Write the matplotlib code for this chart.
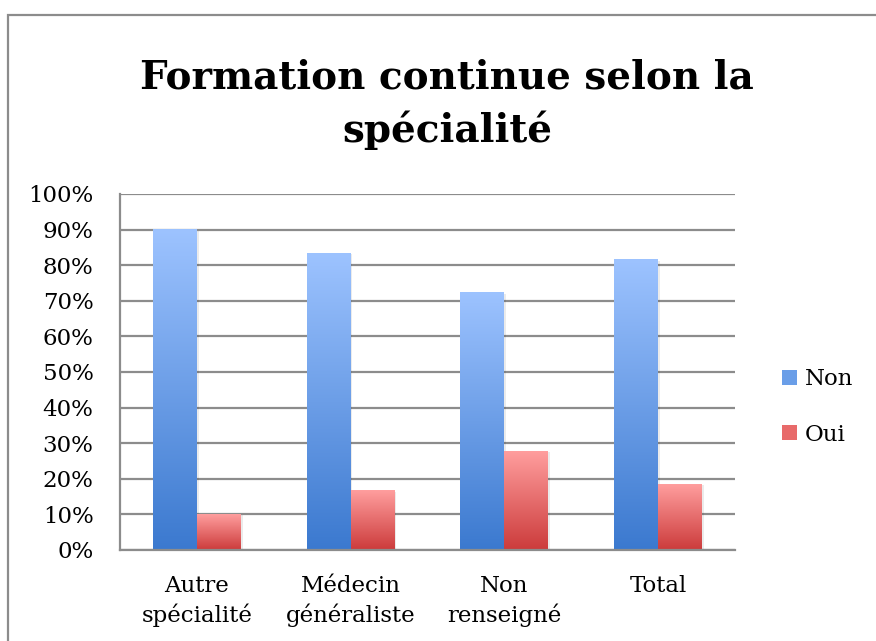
import numpy as np
import matplotlib
matplotlib.use('Agg')
import matplotlib.pyplot as plt
from matplotlib.patches import Rectangle, Patch
from matplotlib.colors import LinearSegmentedColormap

categories = ['Autre\nspécialité', 'Médecin\ngénéraliste', 'Non\nrenseigné', 'Total']
non = [90.0, 83.4, 72.2, 81.5]
oui = [10.0, 16.6, 27.8, 18.5]
yticks = [0, 10, 20, 30, 40, 50, 60, 70, 80, 90, 100]

plt.rcParams['font.family'] = 'DejaVu Serif'

fig = plt.figure(figsize=(8.76, 6.41), dpi=100)
ax = fig.add_axes([120 / 876, 1 - 550 / 641, 615 / 876, 356 / 641])

# outer frame (cropped at right and bottom)
fig.patches.append(Rectangle((8 / 876, -0.05), 1.1, 1 - 15 / 641 + 0.05, transform=fig.transFigure,
                             fill=False, edgecolor='#8c8c8c', linewidth=1.6))

x = np.arange(len(categories))
w = 0.286
bars_non = ax.bar(x - w / 2, non, w, color='none', zorder=3)
bars_oui = ax.bar(x + w / 2, oui, w, color='none', zorder=3)

blue = LinearSegmentedColormap.from_list('b', ['#3b79cf', '#9dc3ff'])
red = LinearSegmentedColormap.from_list('r', ['#cc3b3b', '#ff9e9e'])
grad = np.linspace(0, 1, 256).reshape(-1, 1)
for bars, cmap in [(bars_non, blue), (bars_oui, red)]:
    for b in bars:
        x0, y0 = b.get_x(), b.get_y()
        bw, bh = b.get_width(), b.get_height()
        # soft shadow
        ax.add_patch(Rectangle((x0 + 0.012, y0), bw, bh - 0.3, facecolor='#000000', alpha=0.08,
                               edgecolor='none', zorder=2))
        ax.imshow(grad, cmap=cmap, origin='lower', aspect='auto',
                  extent=(x0, x0 + bw, y0, y0 + bh), zorder=3, interpolation='bicubic')

ax.set_xlim(-0.5, 3.5)
ax.set_ylim(0, 100)
ax.set_yticks(yticks)
ax.set_yticklabels([f'{v}%' for v in yticks])
ax.set_xticks(x)
ax.set_xticklabels(categories, linespacing=1.35)
ax.tick_params(length=0, labelsize=16.5)
ax.tick_params(axis='y', pad=19)
ax.tick_params(axis='x', pad=18)
ax.grid(axis='y', color='#8c8c8c', linewidth=1.6, zorder=1)
ax.set_axisbelow(True)
for s in ['top', 'right']:
    ax.spines[s].set_visible(False)
for s in ['left', 'bottom']:
    ax.spines[s].set_color('#8c8c8c')
    ax.spines[s].set_linewidth(1.6)
    ax.spines[s].set_zorder(4)

fig.text(447 / 876, 1 - 104 / 641, 'Formation continue selon la\nspécialité', ha='center', va='center',
         fontsize=28, fontweight='bold', linespacing=1.45)

handles = [Patch(facecolor='#6a9ee8', edgecolor='none'), Patch(facecolor='#e86a6a', edgecolor='none')]
fig.legend(handles, ['Non', 'Oui'], loc='center left', bbox_to_anchor=(761 / 876, 1 - 407 / 641),
           frameon=False, fontsize=16.5, handlelength=0.65, handleheight=0.65, handletextpad=0.35,
           labelspacing=1.45)

fig.savefig('out.png', dpi=100)
